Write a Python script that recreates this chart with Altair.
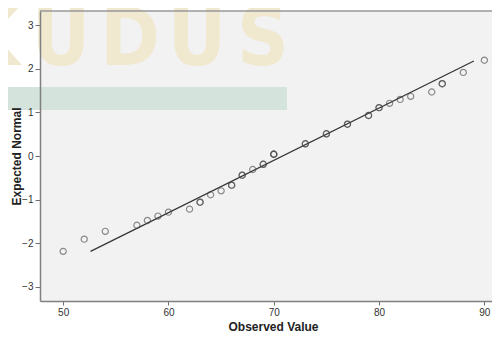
import altair as alt
import pandas as pd

# Observed values, expected normal values, and how many cases share each value
observed = [50, 52, 54, 57, 58, 59, 60, 62, 63, 64, 65, 66, 67, 68, 69, 70,
            73, 75, 77, 79, 80, 81, 82, 83, 85, 86, 88, 90]
expected = [-2.19, -1.91, -1.73, -1.59, -1.48, -1.38, -1.29, -1.22, -1.06, -0.89,
            -0.80, -0.67, -0.44, -0.31, -0.19, 0.04, 0.28, 0.51, 0.73, 0.93,
            1.11, 1.21, 1.30, 1.37, 1.47, 1.66, 1.92, 2.20]
counts = [1, 1, 1, 1, 1, 1, 1, 1, 2, 1, 1, 2, 2, 1, 2, 3,
          2, 2, 2, 2, 2, 1, 1, 1, 1, 2, 1, 1]

# Reference normal line
line_x = [52.6, 89.0]
line_y = [-2.19, 2.18]

x_ticks = [50, 60, 70, 80, 90]
y_ticks = [-3, -2, -1, 0, 1, 2, 3]

# Watermark letters
wm_letters = ["K", "U", "D", "U", "S"]
wm_px = [-48, 21, 90, 157, 223]

rows = []
for v, z, n in zip(observed, expected, counts):
    for _ in range(n):
        rows.append({"obs": v, "exp": z})
pts = pd.DataFrame(rows)
line_df = pd.DataFrame({"obs": line_x, "exp": line_y})
wm_df = pd.DataFrame({"letter": wm_letters, "px": wm_px})

W, H = 452, 290
xscale = alt.Scale(domain=[47.8, 47.8 + W / 10.53], nice=False, zero=False)
yscale = alt.Scale(domain=[-3.33, 3.33], nice=False, zero=False)

xaxis = alt.Axis(values=x_ticks, title="Observed Value", grid=False, tickSize=4,
                 labelPadding=2, titleX=233, titleY=25, titleBaseline="middle",
                 titleAlign="center", zindex=1)
yaxis = alt.Axis(values=y_ticks, title="Expected Normal", grid=False, tickSize=5,
                 labelPadding=2, titleX=-24, titleY=145, titleBaseline="middle",
                 titleAlign="center", zindex=1)

one = pd.DataFrame({"a": [0]})

band = alt.Chart(one).mark_rect(color="#d4e3dc").encode(
    x=alt.value(-32), x2=alt.value(247), y=alt.value(76), y2=alt.value(99)
)

wm = alt.Chart(wm_df).mark_text(
    font="DejaVu Sans Condensed, Liberation Sans Narrow, Liberation Sans",
    fontWeight="bold", fontSize=80,
    color="#f0e8cf", baseline="middle", align="center"
).encode(
    x=alt.X("px:Q", scale=None),
    y=alt.value(30),
    text="letter:N",
)

top_border = alt.Chart(one).mark_rule(color="#999999", strokeWidth=1.5).encode(
    x=alt.value(0), x2=alt.value(W + 10), y=alt.value(0)
)

line = alt.Chart(line_df).mark_line(color="#333333", strokeWidth=1.2).encode(
    x=alt.X("obs:Q", scale=xscale, axis=xaxis),
    y=alt.Y("exp:Q", scale=yscale, axis=yaxis),
)

points = alt.Chart(pts).mark_point(
    shape="circle", filled=False, size=38, strokeWidth=1.2,
    color="#444444", opacity=0.6
).encode(
    x=alt.X("obs:Q", scale=xscale, axis=xaxis),
    y=alt.Y("exp:Q", scale=yscale, axis=yaxis),
)

chart = alt.layer(band, wm, top_border, line, points).properties(
    width=W, height=H,
    autosize=alt.AutoSizeParams(type="none"),
    padding={"left": 32, "top": 3, "right": 0, "bottom": 30},
    background="white",
).configure_view(
    fill="#f2f2f2", stroke=None
).configure_axis(
    domainColor="#808080", domainWidth=1.5, tickColor="#707070", tickWidth=1,
    labelFont="Liberation Sans", labelFontSize=10, labelColor="#333333",
    titleFont="Liberation Sans", titleFontSize=12, titleFontWeight="bold",
    titleColor="#222222"
)

chart.save("out.html", embed_options={"renderer": "svg", "actions": False})
